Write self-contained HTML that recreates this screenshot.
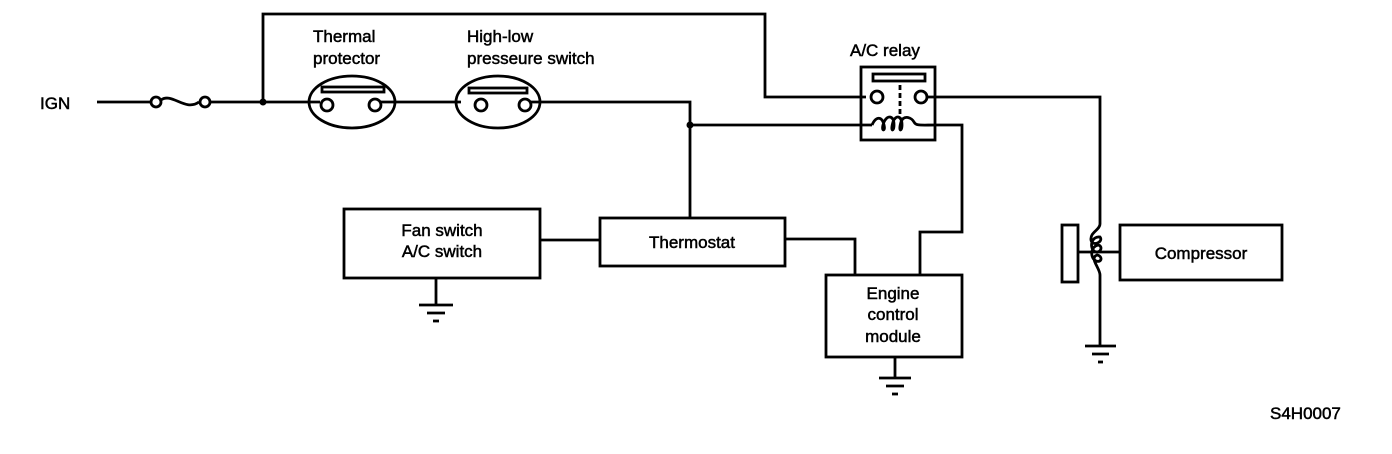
<!DOCTYPE html>
<html><head><meta charset="utf-8"><style>
html,body{margin:0;padding:0;background:#fff;}
svg{display:block;}
text{font-family:"Liberation Sans",Arial,sans-serif;font-size:17px;fill:#000;stroke:#000;stroke-width:0.5px;}
</style></head><body>
<svg width="1392" height="454" viewBox="0 0 1392 454" xmlns="http://www.w3.org/2000/svg">
<g fill="none" stroke="#000" stroke-width="2.8">
<polyline points="263,102 263,14 765,14 765,97 866,97"/>
<line x1="97" y1="102" x2="150" y2="102"/>
<circle cx="156" cy="102" r="5" fill="#fff"/>
<path d="M161,100 C172,92 185,112 199,102"/>
<circle cx="205" cy="102" r="5" fill="#fff"/>
<line x1="210" y1="102" x2="320" y2="102"/>
<ellipse cx="352" cy="102" rx="43" ry="26"/>
<rect x="322" y="87" width="62" height="5"/>
<circle cx="327" cy="105" r="6" fill="#fff"/>
<circle cx="375" cy="105" r="6" fill="#fff"/>
<line x1="381" y1="102" x2="461" y2="102"/>
<ellipse cx="498" cy="102" rx="42" ry="26"/>
<rect x="469" y="88" width="58" height="5"/>
<circle cx="481" cy="105" r="6" fill="#fff"/>
<circle cx="525" cy="105" r="6" fill="#fff"/>
<polyline points="531,102 690,102 690,218"/>
<line x1="690" y1="125" x2="872" y2="125"/>
<rect x="861" y="67" width="74" height="73"/>
<rect x="873" y="74" width="52" height="7"/>
<circle cx="877" cy="97" r="6" fill="#fff"/>
<circle cx="921" cy="97" r="6" fill="#fff"/>
<line x1="900" y1="85" x2="900" y2="118" stroke-dasharray="5,3"/>
<path d="M872,125 C876,116 882,116 884,125 C886,132 880,132 884,122 C888,114 894,116 894,125 C894,132 890,132 893,122 C896,114 902,116 902,125 C902,132 898,132 901,122 C904,114 912,118 914,122 C916,126 920,125 936,125"/>
<polyline points="936,125 962,125 962,232 920,232 920,275"/>
<polyline points="927,97 1100,97 1100,224"/>
<path d="M1100,224 C1100,230 1090,232 1091,240 C1092,247 1104,242 1100,237 C1092,236 1089,246 1094,251 C1100,255 1104,246 1098,245 C1090,247 1090,258 1096,261 C1102,263 1103,256 1097,255 C1089,258 1100,268 1100,275"/>
<line x1="1100" y1="275" x2="1100" y2="345"/>
<rect x="1062" y="225" width="16" height="57"/>
<line x1="1078" y1="252" x2="1120" y2="252"/>
<rect x="1120" y="225" width="162" height="55"/>
<line x1="1085" y1="346" x2="1116" y2="346"/>
<line x1="1092" y1="354" x2="1109" y2="354"/>
<line x1="1098" y1="362" x2="1103" y2="362"/>
<rect x="344" y="209" width="196" height="69"/>
<line x1="540" y1="240" x2="600" y2="240"/>
<rect x="600" y="218" width="185" height="48"/>
<polyline points="785,239 855,239 855,275"/>
<rect x="826" y="275" width="136" height="82"/>
<line x1="436" y1="278" x2="436" y2="304"/>
<line x1="419" y1="305" x2="453" y2="305"/>
<line x1="427" y1="313" x2="445" y2="313"/>
<line x1="433" y1="321" x2="439" y2="321"/>
<line x1="895" y1="357" x2="895" y2="377"/>
<line x1="879" y1="378" x2="911" y2="378"/>
<line x1="886" y1="386" x2="904" y2="386"/>
<line x1="892" y1="394" x2="898" y2="394"/>
</g>
<circle cx="263" cy="102" r="3.5"/>
<circle cx="690" cy="125" r="3.5"/>
<text x="40" y="109" font-size="18">IGN</text>
<text x="313" y="42">Thermal</text>
<text x="313" y="64">protector</text>
<text x="467" y="42">High-low</text>
<text x="467" y="64">presseure switch</text>
<text x="850" y="56">A/C relay</text>
<text x="442" y="236" text-anchor="middle">Fan switch</text>
<text x="442" y="257" text-anchor="middle">A/C switch</text>
<text x="692" y="248" text-anchor="middle">Thermostat</text>
<text x="893" y="299" text-anchor="middle">Engine</text>
<text x="893" y="320" text-anchor="middle">control</text>
<text x="893" y="342" text-anchor="middle">module</text>
<text x="1201" y="259" text-anchor="middle">Compressor</text>
<text x="1270" y="419">S4H0007</text>
</svg>
</body></html>
